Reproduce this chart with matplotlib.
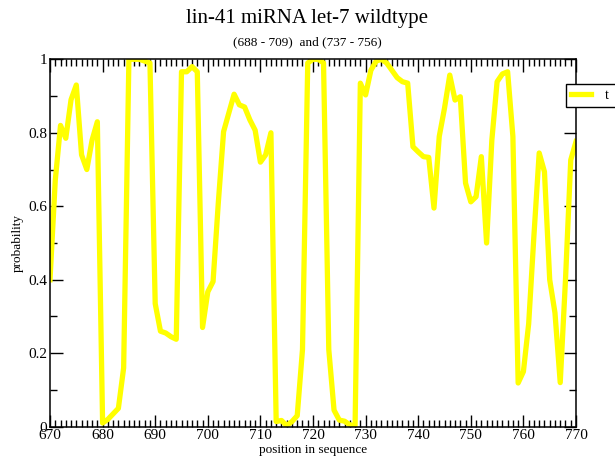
import numpy as np
import matplotlib
matplotlib.use("Agg")
import matplotlib.pyplot as plt
from matplotlib.ticker import MultipleLocator

plt.rcParams['font.family'] = ['Liberation Serif', 'DejaVu Serif']

positions = np.arange(670, 771)
probability = [
    0.40, 0.67, 0.82, 0.785, 0.89, 0.93, 0.74, 0.70, 0.78, 0.83,   # 670-679
    0.01, 0.02, 0.035, 0.05, 0.16, 1.0, 1.0, 1.0, 0.995, 0.99,     # 680-689
    0.335, 0.26, 0.255, 0.245, 0.238, 0.966, 0.966, 0.98, 0.966, 0.27,  # 690-699
    0.367, 0.395, 0.61, 0.803, 0.854, 0.905, 0.876, 0.87, 0.835, 0.807,  # 700-709
    0.72, 0.74, 0.80, 0.014, 0.017, 0.003, 0.014, 0.03, 0.21, 0.99,  # 710-719
    1.0, 1.0, 0.99, 0.21, 0.045, 0.018, 0.015, 0.005, 0.003, 0.935,  # 720-729
    0.903, 0.97, 0.995, 1.0, 0.99, 0.97, 0.95, 0.939, 0.935, 0.762,  # 730-739
    0.748, 0.735, 0.733, 0.595, 0.79, 0.867, 0.957, 0.889, 0.898, 0.663,  # 740-749
    0.612, 0.626, 0.735, 0.50, 0.78, 0.939, 0.96, 0.966, 0.79, 0.119,  # 750-759
    0.15, 0.28, 0.52, 0.745, 0.694, 0.40, 0.31, 0.12, 0.40, 0.726,  # 760-769
    0.776,                                                          # 770
]

fig = plt.figure(figsize=(6.15, 4.61), dpi=100)
ax = fig.add_axes([0.0813, 0.0744, 0.8553, 0.797])

ax.plot(positions, probability, color='#ffff00', linewidth=3.8, label='t    ')

ax.set_xlim(670, 770)
ax.set_ylim(0, 1)
ax.xaxis.set_major_locator(MultipleLocator(10))
ax.xaxis.set_minor_locator(MultipleLocator(1))
ax.yaxis.set_major_locator(MultipleLocator(0.2))
ax.yaxis.set_minor_locator(MultipleLocator(0.1))
ax.yaxis.set_major_formatter(plt.FuncFormatter(lambda v, p: '%g' % round(v, 1)))
ax.tick_params(which='both', direction='in', top=True, right=True, labelsize=11, width=1, pad=2)
ax.tick_params(which='major', length=9)
ax.tick_params(which='minor', length=5)
for s in ax.spines.values():
    s.set_linewidth(1.1)

ax.set_xlabel('position in sequence', fontsize=9.5, labelpad=1)
ax.set_ylabel('probability', fontsize=9.5, labelpad=3)

fig.text(0.5, 0.96, 'lin-41 miRNA let-7 wildtype', ha='center', va='center', fontsize=15)
fig.text(0.5, 0.908, '(688 - 709)  and (737 - 756)', ha='center', va='center', fontsize=9.5)

leg = ax.legend(loc='upper left', bbox_to_anchor=(0.92, 0.818), bbox_transform=fig.transFigure,
                borderaxespad=0, fancybox=False, framealpha=1, edgecolor='black',
                fontsize=10, handlelength=1.5, handletextpad=1.0, borderpad=0.35)
leg.get_frame().set_linewidth(1)

fig.savefig('out.png', dpi=100)
